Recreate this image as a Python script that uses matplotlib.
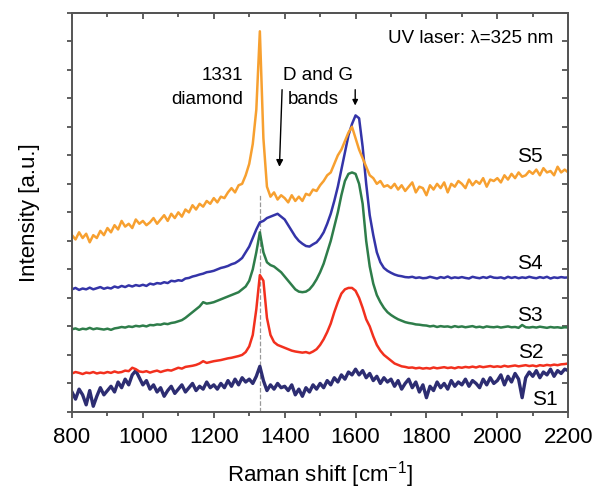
import numpy as np
import matplotlib
matplotlib.use('Agg')
from matplotlib import pyplot as plt
from matplotlib.ticker import MultipleLocator, NullFormatter

plt.rcParams['font.family'] = ['Liberation Sans', 'DejaVu Sans']
plt.rcParams['mathtext.default'] = 'regular'

# Raman shift grid (cm^-1), step 10
shift = np.arange(800, 2201, 10)

s5 = [6.2, 6.05, 6.3, 6.1, 6.25, 5.95, 6.2, 6.1, 6.35, 6.2,
      6.45, 6.3, 6.55, 6.4, 6.7, 6.5, 6.6, 6.45, 6.75, 6.6,
      6.7, 6.55, 6.65, 6.8, 6.6, 6.75, 6.9, 6.7, 6.95, 6.8,
      7.0, 6.85, 7.1, 7.0, 7.25, 7.1, 7.3, 7.2, 7.4, 7.3,
      7.5, 7.35, 7.55, 7.5, 7.7, 7.85, 7.7, 7.95, 8.0, 8.3,
      8.7, 9.4, 10.6, 13.35, 9.6, 7.9, 7.55, 7.7, 7.45, 7.6,
      7.5, 7.35, 7.6, 7.4, 7.55, 7.4, 7.65, 7.6, 7.8, 7.75,
      7.95, 8.1, 8.3, 8.4, 8.7, 9.0, 9.2, 9.5, 9.8, 10.0,
      9.6, 9.2, 8.9, 8.6, 8.3, 8.2, 8.0, 8.1, 7.9, 7.95,
      7.85, 8.0, 7.8, 7.95, 7.75, 7.9, 8.05, 7.7, 7.9, 7.85,
      7.6, 7.95, 7.8, 8.0, 7.85, 8.05, 7.7, 8.0, 7.9, 8.1,
      8.0, 7.85, 8.15, 7.95, 8.1, 8.0, 8.2, 7.9, 8.15, 8.1,
      8.2, 8.05, 8.3, 8.15, 8.35, 8.2, 8.4, 8.25, 8.3, 8.45,
      8.35, 8.5, 8.3, 8.55, 8.4, 8.45, 8.3, 8.6, 8.4, 8.5,
      8.4]

s4 = [4.3, 4.35, 4.28, 4.33, 4.3, 4.36, 4.3, 4.34, 4.38, 4.32,
      4.36, 4.33, 4.4, 4.36, 4.42, 4.38, 4.44, 4.4, 4.45, 4.42,
      4.46, 4.42, 4.5, 4.47, 4.52, 4.5, 4.55, 4.52, 4.6, 4.58,
      4.62, 4.6, 4.68, 4.7, 4.75, 4.78, 4.82, 4.85, 4.9, 4.92,
      4.95, 5.0, 5.05, 5.08, 5.12, 5.18, 5.22, 5.3, 5.4, 5.6,
      5.8, 6.1, 6.4, 6.65, 6.7, 6.8, 6.85, 6.9, 6.95, 6.85,
      6.75, 6.55, 6.35, 6.15, 6.0, 5.9, 5.82, 5.8, 5.88, 5.95,
      6.1, 6.3, 6.6, 6.95, 7.4, 7.9, 8.5, 9.1, 9.7, 10.1,
      10.4, 10.3, 9.3, 8.0, 6.9, 6.2, 5.6, 5.25, 5.05, 4.95,
      4.88, 4.82, 4.78, 4.76, 4.73, 4.72, 4.74, 4.7, 4.72, 4.69,
      4.7, 4.74, 4.71, 4.68, 4.73, 4.7, 4.75, 4.69, 4.72, 4.7,
      4.73, 4.7, 4.68, 4.74, 4.71, 4.69, 4.73, 4.7, 4.75, 4.71,
      4.7, 4.72, 4.68, 4.74, 4.7, 4.73, 4.69, 4.72, 4.7, 4.74,
      4.71, 4.69, 4.73, 4.7, 4.74, 4.68, 4.72, 4.7, 4.73, 4.71,
      4.72]

s3 = [2.9, 2.93, 2.88, 2.92, 2.9, 2.95, 2.9, 2.93, 2.91, 2.89,
      2.92, 2.88, 2.93, 2.95, 2.98, 2.96, 3.0, 2.98, 3.02, 3.0,
      3.03, 3.0, 3.05, 3.04, 3.07, 3.06, 3.1, 3.08, 3.12, 3.14,
      3.18, 3.22, 3.3, 3.4, 3.5, 3.6, 3.7, 3.85, 3.8, 3.82,
      3.85, 3.9, 3.95, 4.0, 4.05, 4.1, 4.15, 4.2, 4.3, 4.4,
      4.6, 5.0, 5.6, 6.3, 5.6, 5.25, 5.15, 5.1, 5.0, 4.9,
      4.75, 4.6, 4.45, 4.3, 4.22, 4.2, 4.22, 4.3, 4.45, 4.65,
      4.9, 5.2, 5.6, 6.0, 6.5, 7.0, 7.6, 8.1, 8.35, 8.4,
      8.35, 8.0, 7.3, 6.0, 5.1, 4.5, 4.1, 3.85, 3.65, 3.5,
      3.4, 3.32, 3.25, 3.2, 3.15, 3.12, 3.1, 3.07, 3.06, 3.04,
      3.03, 3.0, 3.02, 2.98, 3.01, 2.99, 3.0, 2.97, 3.01, 2.98,
      3.0, 2.97, 2.99, 3.01, 2.97, 2.99, 2.96, 3.0, 2.98, 2.97,
      2.99, 2.96, 2.98, 3.0, 2.97, 2.98, 2.95, 3.05, 2.97, 2.96,
      2.98, 2.96, 2.99, 2.97, 2.95, 2.98, 2.96, 2.97, 2.95, 2.97,
      2.96]

s2 = [1.35, 1.4, 1.37, 1.33, 1.38, 1.36, 1.4, 1.35, 1.38, 1.36,
      1.4, 1.37, 1.42, 1.38, 1.4, 1.45, 1.43, 1.55, 1.5, 1.42,
      1.4, 1.43, 1.38, 1.42, 1.45, 1.4, 1.44, 1.47, 1.45, 1.5,
      1.55, 1.52, 1.58, 1.6, 1.62, 1.65, 1.7, 1.78, 1.72, 1.75,
      1.78, 1.8, 1.82, 1.85, 1.88, 1.9, 1.93, 1.96, 2.0, 2.1,
      2.3, 2.7, 3.6, 4.8, 4.6, 3.3, 2.7, 2.45, 2.35, 2.3,
      2.25, 2.2, 2.15, 2.12, 2.1, 2.08, 2.1, 2.06, 2.12, 2.2,
      2.35, 2.55, 2.8, 3.1, 3.5, 3.85, 4.15, 4.3, 4.35, 4.35,
      4.25, 4.0, 3.65, 3.25, 3.0, 2.65, 2.35, 2.15, 2.0, 1.9,
      1.8, 1.7, 1.65, 1.6, 1.58, 1.55, 1.56, 1.53, 1.55, 1.52,
      1.54, 1.52, 1.56, 1.53, 1.55, 1.57, 1.54, 1.56, 1.53, 1.57,
      1.55, 1.58, 1.56, 1.59, 1.56, 1.6, 1.57, 1.59, 1.61, 1.58,
      1.6, 1.58, 1.62, 1.59, 1.61, 1.63, 1.6, 1.62, 1.64, 1.61,
      1.63, 1.6, 1.64, 1.62, 1.65, 1.63, 1.66, 1.64, 1.67, 1.68,
      1.7]

s1 = [0.7, 0.45, 0.8, 0.6, 0.25, 0.75, 0.2, 0.55, 0.85, 0.6,
      0.75, 0.9, 0.7, 1.05, 0.85, 1.15, 0.95, 1.3, 1.45, 1.2,
      0.95, 1.1, 0.8, 0.95, 0.7, 0.85, 0.55, 0.75, 0.9, 0.65,
      0.8, 0.95, 0.7, 0.85, 1.0, 0.75, 0.9, 0.8, 1.05, 0.85,
      0.95, 0.8, 1.0, 0.85, 1.1, 0.9, 1.15, 0.95, 1.2, 1.05,
      1.15, 1.0, 1.25, 1.6, 1.1, 0.75, 0.95, 0.8, 1.0, 0.85,
      0.9, 0.75, 0.95, 0.6, 0.8, 0.55, 0.85, 0.7, 0.95, 0.8,
      1.0, 0.85, 1.1, 0.95, 1.2, 1.05, 1.3, 1.15, 1.4, 1.3,
      1.5, 1.3, 1.45, 1.2, 1.35, 1.1, 1.25, 1.0, 1.2, 1.05,
      1.15, 0.9, 1.1, 0.8, 1.0, 1.15, 0.85, 1.05, 0.7, 0.95,
      0.5, 0.9, 0.75, 1.05, 0.85, 1.0, 0.8, 1.1, 0.9, 1.05,
      0.95, 1.15, 0.9, 1.1, 1.0, 0.85, 1.15, 0.95, 1.2, 1.0,
      1.1, 1.3, 0.95, 1.25, 1.05, 1.35, 1.15, 0.5, 1.2, 1.4,
      1.25, 1.45, 1.2, 1.4, 1.3, 1.5, 1.25, 1.45, 1.35, 1.5,
      1.45]

names = ['S1', 'S2', 'S3', 'S4', 'S5']
colors = ['#2d2d72', '#f2301e', '#2e7d4a', '#3434a8', '#f7a030']
widths = [2.4, 1.8, 1.8, 1.8, 1.8]
label_x = [2135, 2093, 2093, 2093, 2093]
label_y = [0.45, 2.1, 3.4, 5.2, 8.95]

fig = plt.figure(figsize=(5.95, 4.91), dpi=100)
ax = fig.add_axes([0.121, 0.161, 0.834, 0.813])

# dashed marker at the diamond line
ax.plot([1331, 1331], [0, 7.6], ls='--', color='#999999', lw=0.9, zorder=1)

for ys, c, w in zip([s1, s2, s3, s4, s5], colors, widths):
    ax.plot(shift, ys, color=c, lw=w, zorder=2)

for n, lx, ly in zip(names, label_x, label_y):
    ax.text(lx, ly, n, fontsize=15, ha='center', va='center')

fs = 13.5
ax.text(1283, 11.8, '1331', fontsize=fs, ha='right', va='center')
ax.text(1283, 10.95, 'diamond', fontsize=fs, ha='right', va='center')
ax.text(1494, 11.8, 'D and G', fontsize=fs, ha='center', va='center')
ax.text(1480, 10.95, 'bands', fontsize=fs, ha='center', va='center')
ax.annotate('', xy=(1385, 8.5), xytext=(1393, 11.4),
            arrowprops=dict(arrowstyle='-|>', color='black', lw=1.0, mutation_scale=10))
ax.annotate('', xy=(1599, 10.65), xytext=(1599, 11.4),
            arrowprops=dict(arrowstyle='-|>', color='black', lw=1.0, mutation_scale=8))
ax.text(2157, 13.1, 'UV laser: λ=325 nm', fontsize=fs, ha='right', va='center')

ax.set_xlim(800, 2200)
ax.set_ylim(0, 14)
ax.xaxis.set_major_locator(MultipleLocator(200))
ax.xaxis.set_minor_locator(MultipleLocator(100))
ax.yaxis.set_major_locator(MultipleLocator(1))
ax.set_yticklabels([])
tc = '#444444'
ax.tick_params(axis='x', which='major', direction='out', length=4.5, width=1.2,
               labelsize=16, colors=tc, labelcolor='black', pad=6)
ax.tick_params(axis='x', which='minor', direction='out', length=3, width=1.2, colors=tc)
ax.tick_params(axis='y', which='major', direction='out', length=3.5, width=1.2, colors=tc)

# inward ticks on top and right
top = ax.secondary_xaxis('top')
top.xaxis.set_major_locator(MultipleLocator(200))
top.xaxis.set_minor_locator(MultipleLocator(100))
top.xaxis.set_major_formatter(NullFormatter())
top.tick_params(which='major', direction='in', length=4.5, width=1.2, colors=tc)
top.tick_params(which='minor', direction='in', length=3, width=1.2, colors=tc)
right = ax.secondary_yaxis('right')
right.yaxis.set_major_locator(MultipleLocator(1))
right.yaxis.set_major_formatter(NullFormatter())
right.tick_params(direction='in', length=4, width=1.2, colors=tc)
for a in (ax, top, right):
    for sp in a.spines.values():
        sp.set_color('#555555')
        sp.set_linewidth(1.4)

ax.set_xlabel('Raman shift [cm$^{-1}$]', fontsize=16, labelpad=8)
ax.set_ylabel('Intensity [a.u.]', fontsize=16, labelpad=16)

plt.savefig('out.png', dpi=100)
plt.close(fig)
